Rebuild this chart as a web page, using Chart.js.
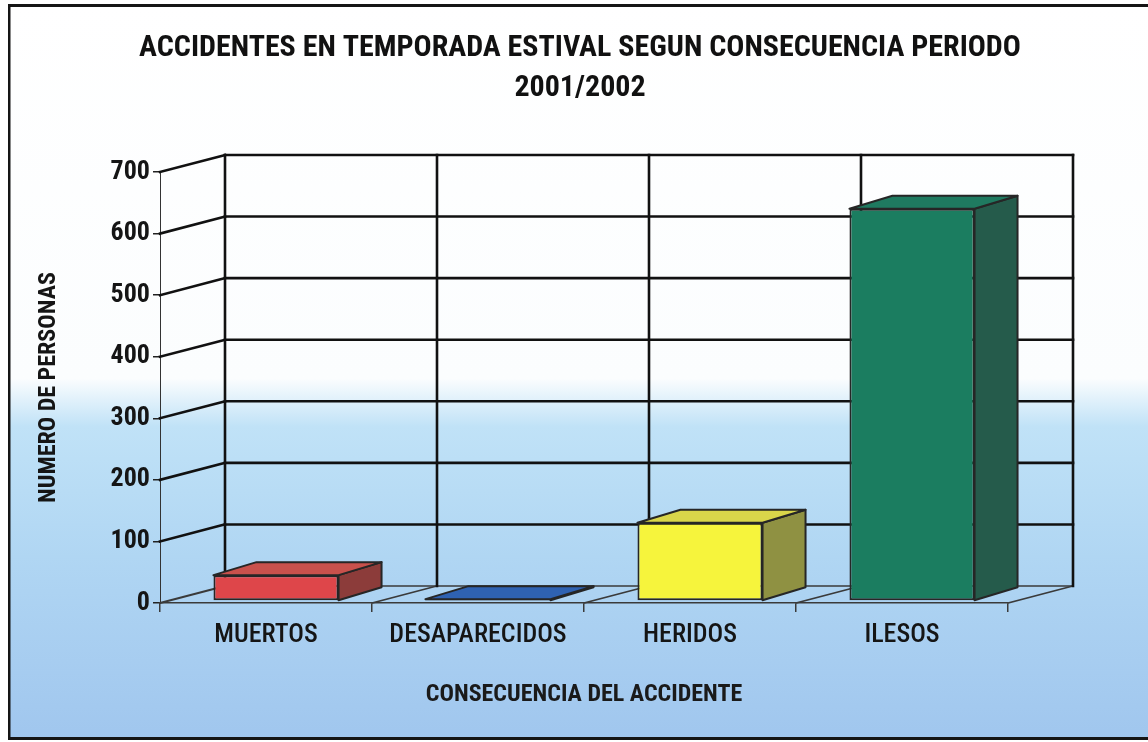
<!DOCTYPE html>
<html>
<head>
<meta charset="utf-8">
<script src="https://cdn.jsdelivr.net/npm/chart.js@4"></script>
<style>
  html, body { margin: 0; padding: 0; background: #fff; }
  canvas { display: block; }
</style>
</head>
<body>
<canvas id="chart" width="1148" height="742"></canvas>
<script>
// --- Data ---
const categories = ['MUERTOS', 'DESAPARECIDOS', 'HERIDOS', 'ILESOS'];
const values = [42, 3, 127, 637];
const yTicks = [0, 100, 200, 300, 400, 500, 600, 700];

const titleLines = ['ACCIDENTES EN TEMPORADA ESTIVAL SEGUN CONSECUENCIA PERIODO', '2001/2002'];
const xTitle = 'CONSECUENCIA DEL ACCIDENTE';
const yTitle = 'NUMERO DE PERSONAS';

// --- Styles ---
const frontColors = ['#de464a', '#2b5dab', '#f6f43c', '#1b7d60'];
const topColors = ['#c9514c', '#2f62b2', '#d9d64a', '#1f7a60'];
const sideColors = ['#8c3c3a', '#23488a', '#8f9142', '#255b4b'];

const FONT = "'Liberation Sans Narrow', 'Arial Narrow', 'Roboto Condensed', sans-serif";
const WALL = { dx: 65, dy: -17 };      // back wall offset
const SHIFT = { dx: 10, dy: -2 };      // bar front plane
const DEPTH = { dx: 43, dy: -13 };     // bar depth

const line = (ctx, x1, y1, x2, y2) => {
  ctx.beginPath();
  ctx.moveTo(x1, y1);
  ctx.lineTo(x2, y2);
  ctx.stroke();
};

const poly = (ctx, pts, fill) => {
  ctx.beginPath();
  ctx.moveTo(pts[0][0], pts[0][1]);
  pts.slice(1).forEach(p => ctx.lineTo(p[0], p[1]));
  ctx.closePath();
  ctx.fillStyle = fill;
  ctx.fill();
  ctx.stroke();
};

const box3d = {
  id: 'box3d',
  beforeDraw(chart) {
    const { ctx, width, height } = chart;
    ctx.save();
    ctx.fillStyle = '#fff';
    ctx.fillRect(0, 0, width, height);
    const g = ctx.createLinearGradient(0, 0, 0, height);
    g.addColorStop(0, '#ffffff');
    g.addColorStop(0.51, '#fbfdfe');
    g.addColorStop(0.575, '#c0e2f7');
    g.addColorStop(0.75, '#b0d6f3');
    g.addColorStop(1, '#a0c6ee');
    ctx.fillStyle = g;
    ctx.fillRect(9, 6, width - 9, height - 9);
    ctx.restore();
  },
  beforeDatasetsDraw(chart) {
    const { ctx, chartArea: a, scales: { y } } = chart;
    const n = categories.length;
    const step = a.width / n;
    const top = y.getPixelForValue(yTicks[yTicks.length - 1]);
    const bottom = y.getPixelForValue(0);

    ctx.save();
    ctx.lineCap = 'square';
    // floor
    ctx.strokeStyle = '#3a3a3a';
    ctx.lineWidth = 1.5;
    for (let i = 1; i <= n; i++) {
      const bx = a.left + i * step;
      line(ctx, bx, bottom, bx + WALL.dx, bottom + WALL.dy);
    }
    line(ctx, a.left + WALL.dx, bottom + WALL.dy, a.right + WALL.dx, bottom + WALL.dy);
    ctx.lineWidth = 2;
    line(ctx, a.left, bottom, a.left + WALL.dx, bottom + WALL.dy);

    // side + back wall grid
    ctx.strokeStyle = '#111';
    ctx.lineWidth = 2.6;
    yTicks.slice(1).forEach(v => {
      const py = y.getPixelForValue(v);
      line(ctx, a.left, py, a.left + WALL.dx, py + WALL.dy);
      line(ctx, a.left + WALL.dx, py + WALL.dy, a.right + WALL.dx, py + WALL.dy);
    });
    for (let i = 0; i <= n; i++) {
      const bx = a.left + i * step + WALL.dx;
      line(ctx, bx, top + WALL.dy, bx, bottom + WALL.dy);
    }
    ctx.restore();

    ctx.save();
    ctx.translate(SHIFT.dx, SHIFT.dy);
  },
  afterDatasetsDraw(chart) {
    const { ctx } = chart;
    ctx.restore();
    const meta = chart.getDatasetMeta(0);
    ctx.save();
    ctx.strokeStyle = '#262626';
    ctx.lineWidth = 2;
    ctx.lineJoin = 'round';
    meta.data.forEach((bar, i) => {
      const { x, y, base, width } = bar.getProps(['x', 'y', 'base', 'width'], true);
      const l = x - width / 2 + SHIFT.dx;
      const r = x + width / 2 + SHIFT.dx;
      const t = y + SHIFT.dy;
      const b = base + SHIFT.dy;
      poly(ctx, [[r, t], [r + DEPTH.dx, t + DEPTH.dy], [r + DEPTH.dx, b + DEPTH.dy], [r, b]], sideColors[i]);
      poly(ctx, [[l, t], [l + DEPTH.dx, t + DEPTH.dy], [r + DEPTH.dx, t + DEPTH.dy], [r, t]], topColors[i]);
    });
    ctx.restore();
  },
  afterDraw(chart) {
    const { ctx, width, height } = chart;
    ctx.save();
    ctx.fillStyle = '#151515';
    ctx.fillRect(8, 4, width - 8, 3);
    ctx.fillRect(8, 4, 2.5, height - 6);
    ctx.fillRect(8, height - 5, width - 8, 3);
    ctx.restore();
  }
};

new Chart(document.getElementById('chart'), {
  type: 'bar',
  data: {
    labels: categories,
    datasets: [{
      data: values,
      backgroundColor: frontColors,
      borderColor: '#262626',
      borderWidth: 2,
      borderSkipped: false,
      categoryPercentage: 1,
      barPercentage: 0.59
    }]
  },
  options: {
    responsive: false,
    devicePixelRatio: 1,
    animation: false,
    layout: { padding: { left: 12, right: 0, top: 0, bottom: 0 } },
    plugins: {
      legend: { display: false },
      tooltip: { enabled: false },
      title: {
        display: true,
        text: titleLines,
        color: '#111',
        font: { family: FONT, size: 30, weight: 'bold', lineHeight: 40 / 30 },
        padding: { top: 28, bottom: 64 }
      }
    },
    scales: {
      x: {
        grid: { display: true, drawOnChartArea: false, tickLength: 9, color: '#3a3a3a', lineWidth: 1.5 },
        border: { display: true, color: '#3a3a3a', width: 1.5 },
        ticks: { color: '#151515', font: { family: FONT, size: 26, weight: '500' }, padding: 8 },
        title: {
          display: true,
          text: xTitle,
          color: '#1a1a1a',
          font: { family: FONT, size: 24, weight: 'bold' },
          padding: { top: 0, bottom: 33 }
        },
        afterFit: (s) => { s.height = 139; }
      },
      y: {
        min: 0,
        max: 700,
        afterBuildTicks: (s) => { s.ticks = yTicks.map(v => ({ value: v })); },
        grid: { display: true, drawOnChartArea: false, tickLength: 7, color: '#222', lineWidth: 1.5 },
        border: { display: true, color: '#333', width: 1 },
        ticks: { color: '#151515', font: { family: FONT, size: 26, weight: 'bold' }, padding: 3 },
        title: {
          display: true,
          text: yTitle,
          color: '#151515',
          font: { family: FONT, size: 24, weight: 'bold' },
          padding: { top: 23, bottom: 0 }
        },
        afterFit: (s) => { s.width = 148; }
      },
      y2: {
        position: 'right',
        display: true,
        grid: { display: false },
        border: { display: false },
        ticks: { display: false },
        afterFit: (s) => { s.width = 140; }
      }
    }
  },
  plugins: [box3d]
});
</script>
</body>
</html>
